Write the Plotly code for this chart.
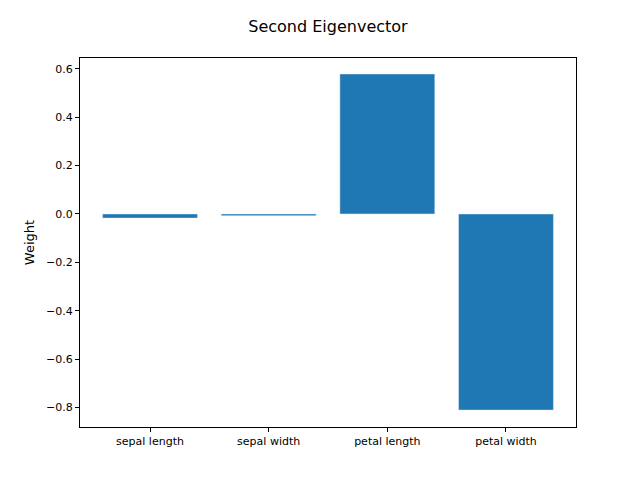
import plotly.graph_objects as go

categories = ["sepal length", "sepal width", "petal length", "petal width"]
weights = [-0.017, -0.007, 0.579, -0.811]

fig = go.Figure(go.Bar(x=categories, y=weights, marker_color="#1f77b4", width=0.8))
fig.update_layout(
    width=640, height=480,
    paper_bgcolor="white", plot_bgcolor="white",
    margin=dict(l=72, r=72, t=50, b=61),
    title=dict(text="Second Eigenvector", x=0.5, xanchor="center", y=0.962, yanchor="middle",
               font=dict(family="DejaVu Sans", size=16, color="black")),
    font=dict(family="DejaVu Sans", size=12, color="black"),
    showlegend=False,
)
fig.update_xaxes(showline=True, linecolor="black", mirror=True, ticks="outside",
                 ticklen=4, tickcolor="black", range=[-0.59, 3.59], showgrid=False,
                 tickfont=dict(size=11))
fig.update_yaxes(showline=True, linecolor="black", mirror=True, ticks="outside",
                 ticklen=4, tickcolor="black", range=[-0.881, 0.645], showgrid=False,
                 zeroline=False, tickvals=[-0.8, -0.6, -0.4, -0.2, 0, 0.2, 0.4, 0.6],
                 ticktext=["\u22120.8", "\u22120.6", "\u22120.4", "\u22120.2", "0.0", "0.2", "0.4", "0.6"],
                 tickfont=dict(size=11),
                 title=dict(text="Weight", font=dict(size=13), standoff=8))
fig.write_html("out.html")
